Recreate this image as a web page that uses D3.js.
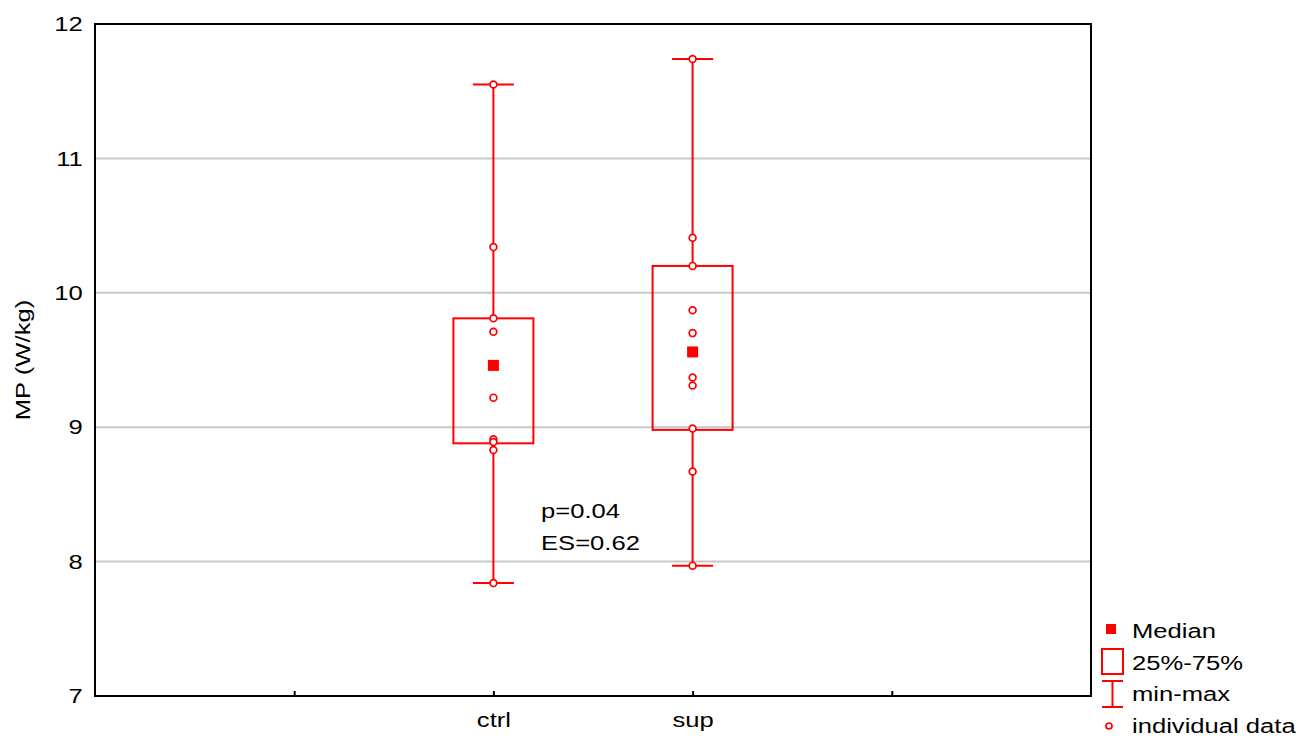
<!DOCTYPE html>
<html>
<head>
<meta charset="utf-8">
<title>MP box plot</title>
<script src="https://cdn.jsdelivr.net/npm/d3@7"></script>
<style>
  body { margin: 0; background: #fff; }
  svg { display: block; font-family: Arial, "Liberation Sans", sans-serif; }
  .grid line { stroke: #c8c8c8; stroke-width: 2; }
  .mark { stroke: #ff0000; fill: none; stroke-width: 2; }
</style>
</head>
<body>
<script>
// slots on the x axis (the outer ones are unlabeled ticks)
var slots = ["a", "ctrl", "sup", "b"];
var groups = ["ctrl", "sup"];
var mins = [7.84, 7.97];
var q1s = [8.88, 8.98];
var medians = [9.46, 9.56];
var q3s = [9.81, 10.20];
var maxs = [11.55, 11.74];
var points = [
    [11.55, 10.34, 9.81, 9.71, 9.22, 8.91, 8.89, 8.83, 7.84],
    [11.74, 10.41, 10.20, 9.87, 9.70, 9.37, 9.31, 8.99, 8.67, 7.97]
];
var yTicks = [7, 8, 9, 10, 11, 12];
var legendItems = ["Median", "25%-75%", "min-max", "individual data"];

var w = 1309, h = 739,
    mLeft = 95, mRight = 1091, mTop = 24, mBottom = 696,
    fs = "21px", sx = 1.22;

var svg = d3.select("body").append("svg")
    .attr("width", w)
    .attr("height", h);

var x = d3.scalePoint().domain(slots).range([mLeft, mRight]).padding(1);
var y = d3.scaleLinear().domain([7, 12]).range([mBottom, mTop]);

// text drawn a bit wider, like the original export
function label(g, tx, ty, txt, rot) {
    return g.append("text")
        .attr("transform", "translate(" + tx + "," + ty + ")" + (rot ? " rotate(" + rot + ")" : "") + " scale(" + sx + ",1)")
        .style("font-size", fs)
        .attr("fill", "#000")
        .text(txt);
}

// gridlines
svg.append("g").attr("class", "grid")
    .selectAll("line")
    .data(yTicks.slice(1, -1))
    .enter().append("line")
    .attr("x1", mLeft).attr("x2", mRight)
    .attr("y1", function (d) { return y(d); })
    .attr("y2", function (d) { return y(d); });

// y axis
var yAxis = svg.append("g")
    .attr("transform", "translate(" + mLeft + ",0)")
    .call(d3.axisLeft(y).tickValues(yTicks).tickFormat(d3.format("d"))
        .tickSize(0).tickPadding(10));
yAxis.select(".domain").remove();
yAxis.selectAll("text")
    .style("font-size", fs).attr("fill", "#000")
    .attr("transform", "scale(" + sx + ",1)");

// x axis
var xAxis = svg.append("g")
    .attr("transform", "translate(0," + mBottom + ")")
    .call(d3.axisBottom(x).tickSizeInner(-5).tickSizeOuter(0).tickPadding(16)
        .tickFormat(function (d) { return groups.indexOf(d) >= 0 ? d : ""; }));
xAxis.select(".domain").remove();
xAxis.selectAll("line").attr("stroke", "#000").attr("stroke-width", 2);
xAxis.selectAll("text")
    .style("font-size", fs).attr("fill", "#000")
    .attr("transform", "scale(" + sx + ",1)");

// frame
svg.append("rect")
    .attr("x", mLeft).attr("y", mTop)
    .attr("width", mRight - mLeft).attr("height", mBottom - mTop)
    .attr("fill", "none").attr("stroke", "#000").attr("stroke-width", 2);

// y title
label(svg, 30, (mTop + mBottom) / 2, "MP (W/kg)", -90)
    .attr("text-anchor", "middle");

var boxW = 80, capW = 41;

groups.forEach(function (g, i) {
    var cx = x(g);
    var gg = svg.append("g");
    // whiskers
    gg.append("line").attr("class", "mark")
        .attr("x1", cx).attr("x2", cx)
        .attr("y1", y(maxs[i])).attr("y2", y(q3s[i]));
    gg.append("line").attr("class", "mark")
        .attr("x1", cx).attr("x2", cx)
        .attr("y1", y(q1s[i])).attr("y2", y(mins[i]));
    [mins[i], maxs[i]].forEach(function (v) {
        gg.append("line").attr("class", "mark")
            .attr("x1", cx - capW / 2).attr("x2", cx + capW / 2)
            .attr("y1", y(v)).attr("y2", y(v));
    });
    // box
    gg.append("rect").attr("class", "mark")
        .attr("x", cx - boxW / 2).attr("width", boxW)
        .attr("y", y(q3s[i])).attr("height", y(q1s[i]) - y(q3s[i]));
    // median
    gg.append("rect")
        .attr("x", cx - 5.5).attr("y", y(medians[i]) - 5.5)
        .attr("width", 11).attr("height", 11)
        .attr("fill", "#ff0000");
    // individual data
    gg.selectAll("circle")
        .data(points[i])
        .enter().append("circle")
        .attr("cx", cx)
        .attr("cy", function (d) { return y(d); })
        .attr("r", 3.4)
        .attr("fill", "#fff")
        .attr("stroke", "#ff0000")
        .attr("stroke-width", 1.7);
});

// annotation
label(svg, 541, 518, "p=0.04");
label(svg, 541, 550, "ES=0.62");

// legend
var lg = svg.append("g");
lg.append("rect").attr("x", 1106).attr("y", 624).attr("width", 10).attr("height", 10).attr("fill", "#ff0000");
lg.append("rect").attr("class", "mark").attr("x", 1102).attr("y", 649).attr("width", 21).attr("height", 25);
lg.append("line").attr("class", "mark").attr("x1", 1102).attr("x2", 1123).attr("y1", 681).attr("y2", 681);
lg.append("line").attr("class", "mark").attr("x1", 1102).attr("x2", 1123).attr("y1", 707).attr("y2", 707);
lg.append("line").attr("class", "mark").attr("x1", 1112.5).attr("x2", 1112.5).attr("y1", 681).attr("y2", 707);
lg.append("circle").attr("cx", 1109).attr("cy", 726).attr("r", 3)
    .attr("fill", "#fff").attr("stroke", "#ff0000").attr("stroke-width", 1.7);

var legendY = [638, 670, 701, 733];
legendItems.forEach(function (d, i) {
    label(lg, 1132, legendY[i], d);
});
</script>
</body>
</html>
